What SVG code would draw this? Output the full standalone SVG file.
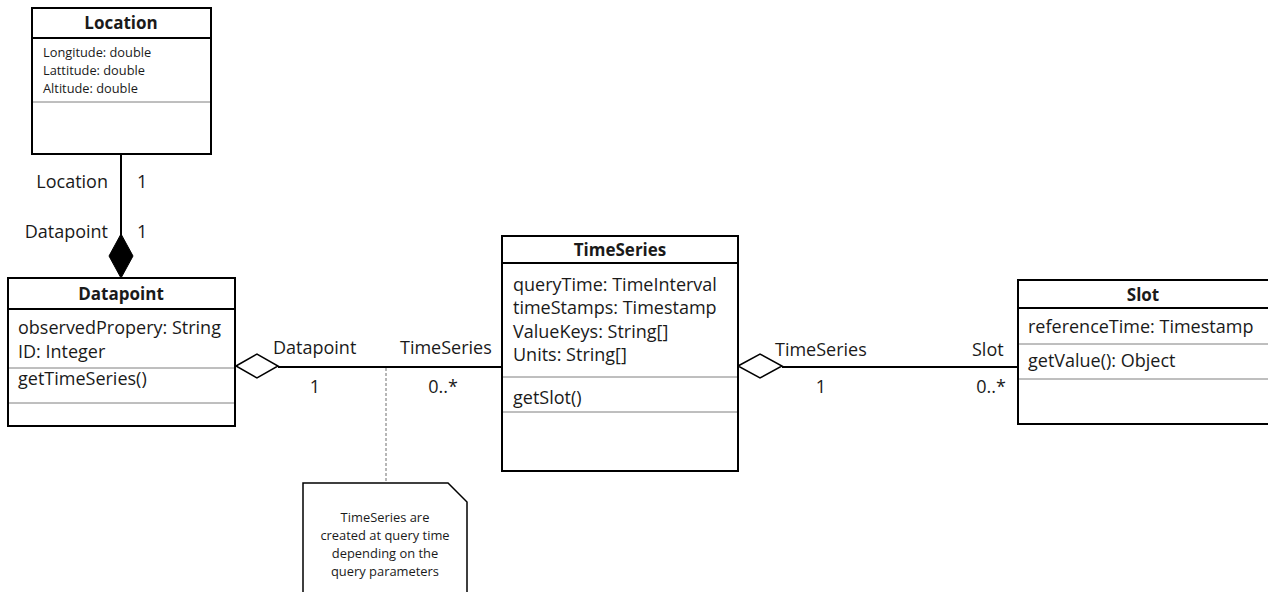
<svg xmlns="http://www.w3.org/2000/svg" width="1268" height="592" viewBox="0 0 1268 592">
  <style>
    .box { fill: #ffffff; stroke: #000000; stroke-width: 2; }
    .sep { stroke: #7f7f7f; stroke-width: 1; }
    .title { font-family: "Open Sans", "Liberation Sans", sans-serif; font-weight: bold; font-size: 17px; fill: #1a1a1a; text-anchor: middle; }
    .txt { font-family: "Open Sans", "Liberation Sans", sans-serif; font-size: 18px; fill: #1a1a1a; }
    .small { font-family: "Open Sans", "Liberation Sans", sans-serif; font-size: 12.8px; fill: #1a1a1a; }
    .note { font-family: "Open Sans", "Liberation Sans", sans-serif; font-size: 12.9px; fill: #1a1a1a; text-anchor: middle; }
    .line { stroke: #000000; stroke-width: 2; fill: none; }
    .dash { stroke: #6f6f6f; stroke-width: 1; stroke-dasharray: 3 2; fill: none; }
    .end { text-anchor: end; }
    .mid { text-anchor: middle; }
  </style>

  <!-- associations -->
  <g id="connectors">
    <!-- Location - Datapoint composition -->
    <line class="line" x1="121" y1="154" x2="121" y2="236"/>
    <polygon points="121,234 133,256 121,278 109,256" fill="#000000" stroke="#000000" stroke-width="1"/>
    <text class="txt end" x="108" y="188">Location</text>
    <text class="txt" x="137" y="188">1</text>
    <text class="txt end" x="108" y="238">Datapoint</text>
    <text class="txt" x="137" y="238">1</text>

    <!-- Datapoint - TimeSeries aggregation -->
    <line class="line" x1="278" y1="367" x2="502" y2="367"/>
    <polygon points="236,366 257,354 278,366 257,378" fill="#ffffff" stroke="#000000" stroke-width="1.5"/>
    <text class="txt" x="273" y="354">Datapoint</text>
    <text class="txt" x="400" y="354">TimeSeries</text>
    <text class="txt mid" x="315" y="393">1</text>
    <text class="txt mid" x="443" y="393">0..*</text>

    <!-- TimeSeries - Slot aggregation -->
    <line class="line" x1="782" y1="367" x2="1018" y2="367"/>
    <polygon points="738,366 760,354 782,366 760,378" fill="#ffffff" stroke="#000000" stroke-width="1.5"/>
    <text class="txt" x="775" y="356">TimeSeries</text>
    <text class="txt" x="972" y="356">Slot</text>
    <text class="txt mid" x="821" y="393">1</text>
    <text class="txt mid" x="991" y="393">0..*</text>

    <!-- note anchor -->
    <line class="dash" x1="386" y1="368" x2="386" y2="483"/>
  </g>

  <g id="location">
    <rect class="box" x="32" y="8" width="179" height="146"/>
    <line class="line" x1="32" y1="38" x2="211" y2="38"/>
    <line class="sep" x1="33" y1="102" x2="210" y2="102"/>
    <text class="title" x="121" y="29">Location</text>
    <text class="small" x="43" y="57">Longitude: double</text>
    <text class="small" x="43" y="75">Lattitude: double</text>
    <text class="small" x="43" y="93">Altitude: double</text>
  </g>

  <g id="datapoint">
    <rect class="box" x="8" y="278" width="227" height="148"/>
    <line class="line" x1="8" y1="309" x2="235" y2="309"/>
    <line class="sep" x1="9" y1="368" x2="234" y2="368"/>
    <line class="sep" x1="9" y1="403" x2="234" y2="403"/>
    <text class="title" x="121" y="300">Datapoint</text>
    <text class="txt" x="18" y="334">observedPropery: String</text>
    <text class="txt" x="18" y="358">ID: Integer</text>
    <text class="txt" x="18" y="385">getTimeSeries()</text>
  </g>

  <g id="timeseries">
    <rect class="box" x="502" y="236" width="236" height="235"/>
    <line class="line" x1="502" y1="263" x2="738" y2="263"/>
    <line class="sep" x1="503" y1="377" x2="737" y2="377"/>
    <line class="sep" x1="503" y1="412" x2="737" y2="412"/>
    <text class="title" x="620" y="256">TimeSeries</text>
    <text class="txt" x="513" y="291">queryTime: TimeInterval</text>
    <text class="txt" x="513" y="314">timeStamps: Timestamp</text>
    <text class="txt" x="513" y="338">ValueKeys: String[]</text>
    <text class="txt" x="513" y="361">Units: String[]</text>
    <text class="txt" x="513" y="404">getSlot()</text>
  </g>

  <g id="slot">
    <rect class="box" x="1018" y="280" width="260" height="144"/>
    <line class="line" x1="1018" y1="308" x2="1278" y2="308"/>
    <line class="sep" x1="1019" y1="344" x2="1268" y2="344"/>
    <line class="sep" x1="1019" y1="379" x2="1268" y2="379"/>
    <text class="title" x="1143" y="301">Slot</text>
    <text class="txt" x="1028" y="333">referenceTime: Timestamp</text>
    <text class="txt" x="1028" y="367">getValue(): Object</text>
  </g>

  <g id="note">
    <polyline points="303,600 303,483 448,483 467,502 467,600" fill="#ffffff" stroke="#000000" stroke-width="1.5"/>
    <text class="note" x="385" y="522">TimeSeries are</text>
    <text class="note" x="385" y="540">created at query time</text>
    <text class="note" x="385" y="558">depending on the</text>
    <text class="note" x="385" y="576">query parameters</text>
  </g>
</svg>
